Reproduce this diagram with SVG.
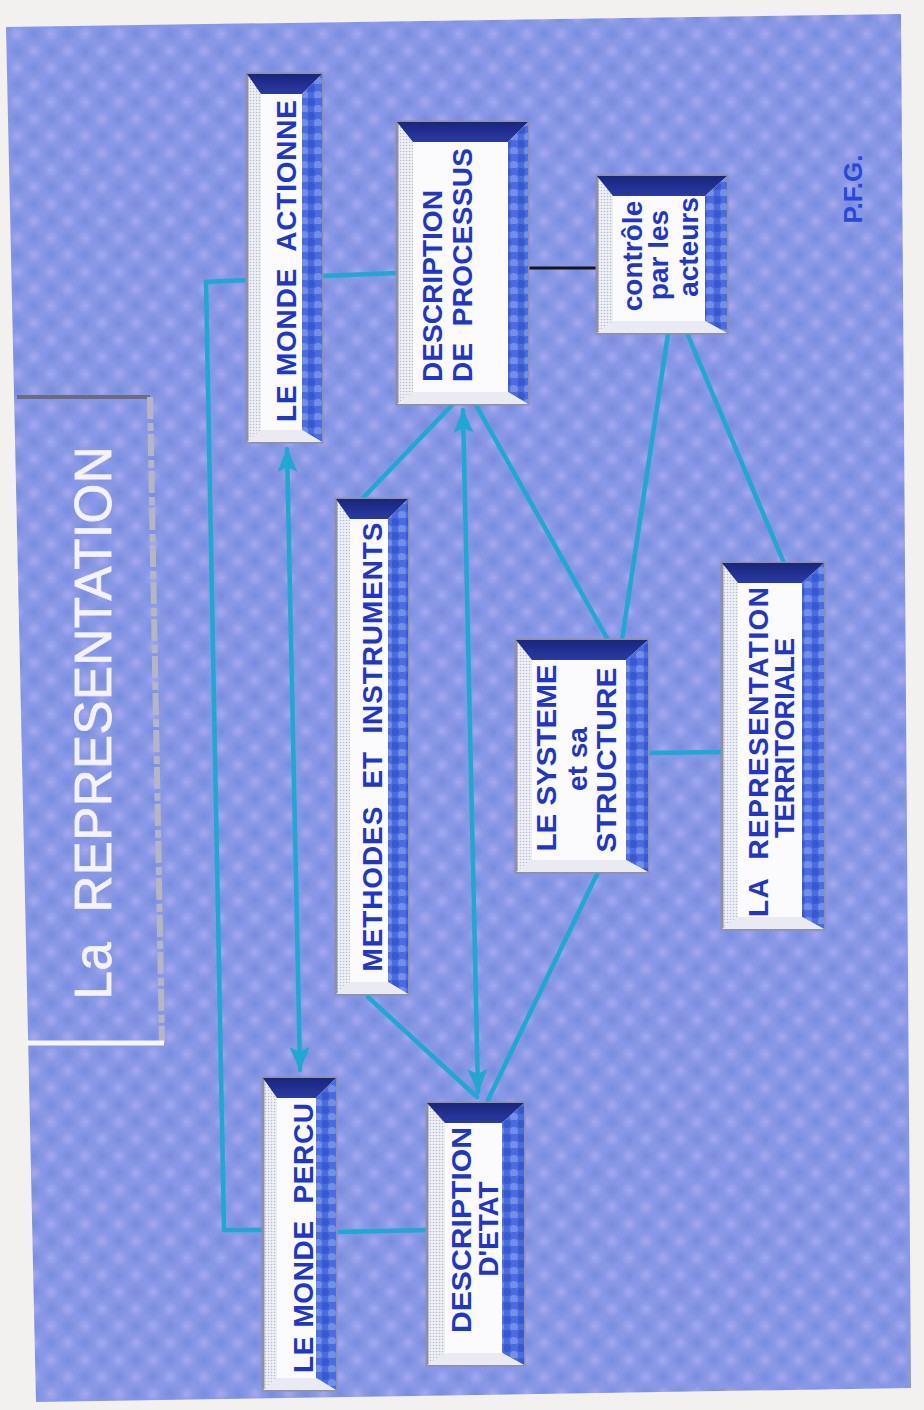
<svg xmlns="http://www.w3.org/2000/svg" width="924" height="1410" viewBox="0 0 924 1410">
<style>
.frame{fill:url(#ht);stroke:#8f90a8;stroke-width:3}
.top{fill:url(#navy)}
.right{fill:url(#rb)}
.bot{fill:#e9eaf2}
.inner{fill:#fbfbfe}
.lbl{font-family:"Liberation Sans",Arial,sans-serif;font-weight:bold;font-size:28px;fill:#1f36c9;white-space:pre}
.con{fill:none;stroke:#1ea8d2;stroke-width:4.5;stroke-linecap:round}
.blk{fill:none;stroke:#15151c;stroke-width:3}
</style>
<defs>
<radialGradient id="gd"><stop offset="0" stop-color="#6a80d8" stop-opacity="0.5"/><stop offset="1" stop-color="#6a80d8" stop-opacity="0"/></radialGradient>
<radialGradient id="gl"><stop offset="0" stop-color="#bcb2f4" stop-opacity="0.6"/><stop offset="1" stop-color="#bcb2f4" stop-opacity="0"/></radialGradient>
<pattern id="bg" width="34" height="34" patternUnits="userSpaceOnUse">
<rect width="34" height="34" fill="#8898e6"/>
<circle cx="0" cy="0" r="9" fill="url(#gd)"/><circle cx="34" cy="0" r="9" fill="url(#gd)"/>
<circle cx="0" cy="34" r="9" fill="url(#gd)"/><circle cx="34" cy="34" r="9" fill="url(#gd)"/>
<circle cx="17" cy="17" r="9" fill="url(#gd)"/>
<circle cx="17" cy="0" r="8" fill="url(#gl)"/><circle cx="0" cy="17" r="8" fill="url(#gl)"/>
<circle cx="34" cy="17" r="8" fill="url(#gl)"/><circle cx="17" cy="34" r="8" fill="url(#gl)"/>
</pattern>
<pattern id="ht" width="3" height="3" patternUnits="userSpaceOnUse">
<rect width="3" height="3" fill="#eef0f7"/><circle cx="1.5" cy="1.5" r="0.8" fill="#b9bccd"/>
</pattern>
<pattern id="rb" width="14" height="14" patternUnits="userSpaceOnUse">
<rect width="14" height="14" fill="#4a6cde"/>
<circle cx="3" cy="4" r="4" fill="#2f50c8" opacity="0.7"/>
<circle cx="10" cy="11" r="4" fill="#8ea6ee" opacity="0.6"/>
</pattern>
<linearGradient id="navy" x1="0" y1="0" x2="0" y2="1"><stop offset="0" stop-color="#18267a"/><stop offset="1" stop-color="#2a3aa6"/></linearGradient>
<marker id="ah" markerWidth="26" markerHeight="22" refX="23" refY="10" orient="auto-start-reverse" markerUnits="userSpaceOnUse">
<path d="M0,0 L24,10 L0,20 L5,10 z" fill="#1ea8d2"/>
</marker>
</defs>

<rect width="924" height="1410" fill="#f2f1ef"/>
<polygon id="panel" points="6,27 901,14 911,1388 36,1402" fill="url(#bg)"/>

<g id="title">
<line x1="17" y1="397" x2="150" y2="397" stroke="#6c6c7c" stroke-width="4"/>
<line x1="150" y1="397" x2="162" y2="1043" stroke="#b4b6c6" stroke-width="6" stroke-dasharray="22 4 8 3"/>
<line x1="27" y1="1043" x2="164" y2="1043" stroke="#f6f6f9" stroke-width="5"/>
<text transform="translate(111,723) rotate(-90)" text-anchor="middle" textLength="553" font-family="Liberation Sans, Arial, sans-serif" font-size="51" fill="#f4f2fa" stroke="#f4f2fa" stroke-width="0.8" style="white-space:pre">La  REPRESENTATION</text>
</g>

<g id="connectors">
<polyline class="con" points="247,280 206,282 224,1230 265,1230"/>
<line class="con" x1="322" y1="276" x2="397" y2="273"/>
<line class="blk" x1="528" y1="268" x2="600" y2="268"/>
<line class="con" x1="336" y1="1232" x2="427" y2="1230"/>
<line class="con" x1="287" y1="449" x2="300" y2="1070" marker-start="url(#ah)" marker-end="url(#ah)"/>
<line class="con" x1="463" y1="410" x2="478" y2="1092" marker-start="url(#ah)" marker-end="url(#ah)"/>
<line class="con" x1="363" y1="498" x2="452" y2="405"/>
<line class="con" x1="476" y1="405" x2="608" y2="640"/>
<line class="con" x1="668" y1="334" x2="622" y2="640"/>
<line class="con" x1="687" y1="333" x2="784" y2="563"/>
<line class="con" x1="648" y1="753" x2="724" y2="752"/>
<line class="con" x1="368" y1="997" x2="477" y2="1097"/>
<line class="con" x1="598" y1="872" x2="488" y2="1100"/>
</g>

<g id="n-actionne">
<rect class="frame" x="247" y="74" width="75" height="368"/>
<polygon class="top" points="247,74 322,74 302,94 261,94"/>
<polygon class="right" points="322,74 322,442 302,430 302,94"/>
<polygon class="bot" points="247,442 322,442 302,430 261,430"/>
<rect class="inner" x="261" y="94" width="41" height="336"/>
<text class="lbl" transform="translate(296,261) rotate(-90)" text-anchor="middle" textLength="322">LE MONDE  ACTIONNE</text>
</g>

<g id="n-processus">
<rect class="frame" x="397" y="122" width="131" height="282"/>
<polygon class="top" points="397,122 528,122 508,142 413,142"/>
<polygon class="right" points="528,122 528,404 508,392 508,142"/>
<polygon class="bot" points="397,404 528,404 508,392 413,392"/>
<rect class="inner" x="413" y="142" width="95" height="250"/>
<text class="lbl" transform="translate(442,382) rotate(-90)" textLength="192" lengthAdjust="spacingAndGlyphs">DESCRIPTION</text>
<text class="lbl" transform="translate(472,382) rotate(-90)" textLength="234">DE  PROCESSUS</text>
</g>

<g id="n-controle">
<rect class="frame" x="597" y="176" width="130" height="157"/>
<polygon class="top" points="597,176 727,176 705,196 613,196"/>
<polygon class="right" points="727,176 727,333 705,321 705,196"/>
<polygon class="bot" points="597,333 727,333 705,321 613,321"/>
<rect class="inner" x="613" y="196" width="92" height="125"/>
<text class="lbl" transform="translate(642,256) rotate(-90)" text-anchor="middle">contrôle</text>
<text class="lbl" transform="translate(668,255) rotate(-90)" text-anchor="middle">par les</text>
<text class="lbl" transform="translate(698,247) rotate(-90)" text-anchor="middle">acteurs</text>
</g>

<g id="n-methodes">
<rect class="frame" x="336" y="499" width="72" height="495"/>
<polygon class="top" points="336,499 408,499 388,519 350,519"/>
<polygon class="right" points="408,499 408,994 388,982 388,519"/>
<polygon class="bot" points="336,994 408,994 388,982 350,982"/>
<rect class="inner" x="350" y="519" width="38" height="463"/>
<text class="lbl" transform="translate(382,747) rotate(-90)" text-anchor="middle" textLength="449">METHODES  ET  INSTRUMENTS</text>
</g>

<g id="n-systeme">
<rect class="frame" x="516" y="640" width="132" height="232"/>
<polygon class="top" points="516,640 648,640 626,660 532,660"/>
<polygon class="right" points="648,640 648,872 626,860 626,660"/>
<polygon class="bot" points="516,872 648,872 626,860 532,860"/>
<rect class="inner" x="532" y="660" width="94" height="200"/>
<text class="lbl" transform="translate(556,758) rotate(-90)" text-anchor="middle" textLength="187" lengthAdjust="spacingAndGlyphs">LE SYSTEME</text>
<text class="lbl" transform="translate(587,759) rotate(-90)" text-anchor="middle">et sa</text>
<text class="lbl" transform="translate(616,760) rotate(-90)" text-anchor="middle" textLength="185" lengthAdjust="spacingAndGlyphs">STRUCTURE</text>
</g>

<g id="n-territoriale">
<rect class="frame" x="722" y="563" width="102" height="366"/>
<polygon class="top" points="722,563 824,563 802,583 738,583"/>
<polygon class="right" points="824,563 824,929 802,917 802,583"/>
<polygon class="bot" points="722,929 824,929 802,917 738,917"/>
<rect class="inner" x="738" y="583" width="64" height="334"/>
<text class="lbl" transform="translate(768,752) rotate(-90)" text-anchor="middle" textLength="330">LA  REPRESENTATION</text>
<text class="lbl" transform="translate(794,738) rotate(-90)" text-anchor="middle" textLength="200" lengthAdjust="spacingAndGlyphs">TERRITORIALE</text>
</g>

<g id="n-percu">
<rect class="frame" x="263" y="1078" width="73" height="312"/>
<polygon class="top" points="263,1078 336,1078 316,1098 277,1098"/>
<polygon class="right" points="336,1078 336,1390 316,1378 316,1098"/>
<polygon class="bot" points="263,1390 336,1390 316,1378 277,1378"/>
<rect class="inner" x="277" y="1098" width="39" height="280"/>
<text class="lbl" transform="translate(313,1238) rotate(-90)" text-anchor="middle" textLength="270">LE MONDE  PERCU</text>
</g>

<g id="n-etat">
<rect class="frame" x="427" y="1103" width="97" height="262"/>
<polygon class="top" points="427,1103 524,1103 502,1123 445,1123"/>
<polygon class="right" points="524,1103 524,1365 502,1353 502,1123"/>
<polygon class="bot" points="427,1365 524,1365 502,1353 445,1353"/>
<rect class="inner" x="445" y="1123" width="57" height="230"/>
<text class="lbl" transform="translate(471,1230) rotate(-90)" text-anchor="middle" textLength="206" lengthAdjust="spacingAndGlyphs">DESCRIPTION</text>
<text class="lbl" transform="translate(498,1229) rotate(-90)" text-anchor="middle" textLength="95" lengthAdjust="spacingAndGlyphs">D'ETAT</text>
</g>

<g id="pfg">
<text transform="translate(862,189) rotate(-90)" text-anchor="middle" font-family="Liberation Sans, Arial, sans-serif" font-weight="bold" font-size="26" fill="#2a48d6">P.F.G.</text>
</g>
</svg>
